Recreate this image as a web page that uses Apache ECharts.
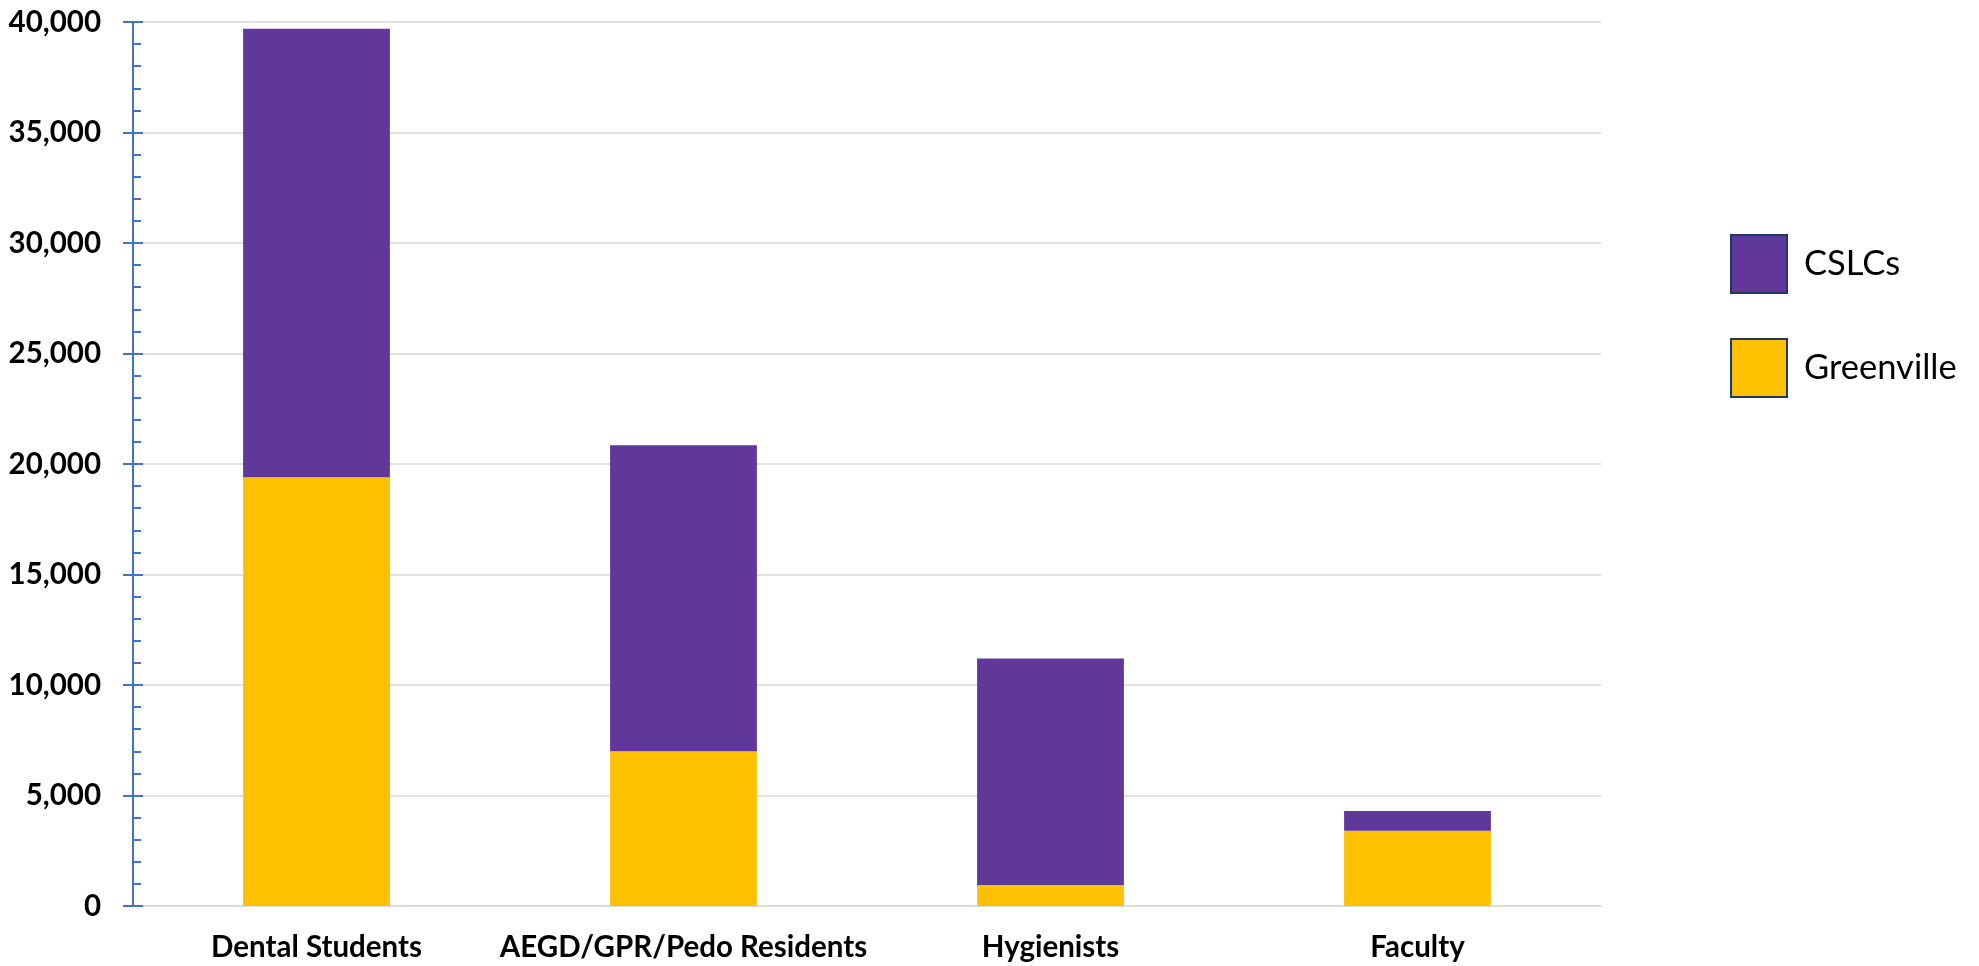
<!DOCTYPE html>
<html>
<head>
<meta charset="utf-8">
<script src="https://cdn.jsdelivr.net/npm/echarts@6/dist/echarts.min.js"></script>
<style>
html,body{margin:0;padding:0;background:#fff;}
#chart{width:1979px;height:966px;}
</style>
</head>
<body>
<div id="chart"></div>
<script>
const categories = ['Dental Students', 'AEGD/GPR/Pedo Residents', 'Hygienists', 'Faculty'];
const greenville = [19400, 7000, 950, 3400];
const cslcs = [20300, 13850, 10250, 900];
const seriesNames = ['CSLCs', 'Greenville'];
const yMin = 0, yMax = 40000, yStep = 5000;

const FONT = 'Lato';
const chart = echarts.init(document.getElementById('chart'));
const fmt = v => v.toLocaleString('en-US');
chart.setOption({
  backgroundColor: '#ffffff',
  animation: false,
  grid: { left: 133, right: 378, top: 22, bottom: 60, containLabel: false },
  legend: {
    data: seriesNames,
    orient: 'vertical',
    left: 1725,
    top: 229,
    itemWidth: 56,
    itemHeight: 58,
    itemGap: 44,
    icon: 'rect',
    itemStyle: { borderColor: '#1F3864', borderWidth: 2 },
    textStyle: { fontFamily: FONT, fontSize: 34.5, color: '#000', padding: [0, 0, 0, 12] }
  },
  xAxis: {
    type: 'category',
    data: categories,
    axisLine: { show: true, lineStyle: { color: '#D9D9D9', width: 1.5 } },
    axisTick: { show: false },
    axisLabel: { fontFamily: FONT, fontWeight: 'bold', fontSize: 29.5, color: '#000', margin: 26, interval: 0 },
    splitLine: { show: false }
  },
  yAxis: [{
    type: 'value',
    min: yMin, max: yMax, interval: yStep,
    position: 'left',
    axisLine: { show: true, lineStyle: { color: '#4472C4', width: 2 } },
    axisTick: { show: true, inside: false, length: 10, lineStyle: { color: '#4472C4', width: 2 } },
    axisLabel: { fontFamily: FONT, fontWeight: 'bold', fontSize: 29.5, color: '#000', margin: 32, formatter: fmt },
    splitLine: { show: true, lineStyle: { color: '#D9D9D9', width: 1.5 } }
  }, {
    type: 'value',
    min: yMin, max: yMax, interval: yStep,
    position: 'left',
    offset: 0,
    axisLine: { show: true, lineStyle: { color: '#4472C4', width: 2 } },
    axisTick: { show: true, inside: true, length: 10, lineStyle: { color: '#4472C4', width: 2 } },
    minorTick: { show: true, splitNumber: 5, length: 8, lineStyle: { color: '#4472C4', width: 2 } },
    axisLabel: { show: false },
    splitLine: { show: false }
  }],
  series: [{
    name: 'Greenville',
    type: 'bar',
    stack: 'total',
    data: greenville,
    barWidth: '40%',
    itemStyle: { color: '#FFC000' }
  }, {
    name: 'CSLCs',
    type: 'bar',
    stack: 'total',
    data: cslcs,
    barWidth: '40%',
    itemStyle: { color: '#5F3899' }
  }]
});
</script>
</body>
</html>
